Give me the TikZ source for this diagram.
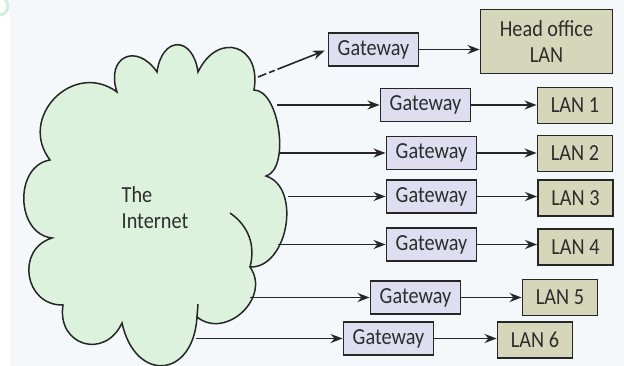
\documentclass[tikz,border=0pt]{standalone}
\usepackage{fontspec}
\setmainfont{Carlito}[FakeStretch=0.88]
\usetikzlibrary{arrows.meta}
\definecolor{bg}{RGB}{244,248,250}
\definecolor{cloudfill}{RGB}{221,242,221}
\definecolor{gwfill}{RGB}{222,222,240}
\definecolor{lanfill}{RGB}{214,214,186}
\definecolor{ink}{RGB}{38,38,38}
\definecolor{txt}{RGB}{45,45,45}
\definecolor{ring}{RGB}{205,240,222}
\begin{document}
\begin{tikzpicture}[x=1pt,y=-1pt,
  lbl/.style={text=txt, font=\fontsize{23}{26}\selectfont},
  gwbox/.style={lbl, draw=ink, line width=1.9pt, fill=gwfill, minimum width=90pt, minimum height=33pt, inner sep=0pt},
  lanbox/.style={lbl, draw=ink, line width=1.9pt, fill=lanfill, minimum width=75pt, minimum height=36pt, inner sep=0pt},
  conn/.style={draw=ink, line width=1.6pt, -{Stealth[length=12pt,width=9pt]}},
  lobe/.style={bend left=82, looseness=#1}
]
\useasboundingbox (0,0) rectangle (624,366);
\fill[bg] (0,0) rectangle (624,366);
\fill[white] (0,0) rectangle (10,366);
\draw[ring, line width=3pt] (-1,6) circle (9);

% cloud
\draw[draw=ink, line width=1.5pt, fill=cloudfill]
  (50,160) to[lobe=1.45] (117,92)
  to[lobe=2.1] (157,72)
  to[lobe=2.3] (198,72)
  to[lobe=2.0] (254,90)
  to[lobe=0.75] (266,176)
  to[lobe=1.05] (250,267)
  to[lobe=1.3] (197,317)
  to[lobe=2.1] (122,323)
  to[lobe=1.7] (63,305)
  to[lobe=1.45] (52,238)
  to[lobe=1.2] (50,160) -- cycle;
\draw[draw=ink, line width=1.5pt] (230,213) to[bend left=35] (250,267);
\draw[draw=ink, line width=1.5pt] (197,317) -- (198,304);
\node[lbl, align=left] (inet) at (155,208) {The\\Internet};

% gateways and LANs
\node[gwbox] (g0) at (373.5,49.5) {Gateway};
\node[lanbox, minimum width=132pt, minimum height=64pt, align=center] (h0) at (546.5,41.5) {Head office\\LAN};
\node[gwbox] (g1) at (425.5,105) {Gateway};
\node[lanbox] (l1) at (575,105.5) {LAN 1};
\node[gwbox] (g2) at (431.5,153) {Gateway};
\node[lanbox] (l2) at (575,153.5) {LAN 2};
\node[gwbox] (g3) at (431.5,196.5) {Gateway};
\node[lanbox] (l3) at (575.5,198) {LAN 3};
\node[gwbox] (g4) at (431.5,244.5) {Gateway};
\node[lanbox] (l4) at (575.5,247) {LAN 4};
\node[gwbox] (g5) at (415.5,297.5) {Gateway};
\node[lanbox] (l5) at (560,297.5) {LAN 5};
\node[gwbox] (g6) at (388.5,338.5) {Gateway};
\node[lanbox] (l6) at (535,340) {LAN 6};

% cloud exits
\coordinate (c0) at (258,77);
\coordinate (c1) at (277,105);
\coordinate (c2) at (280,153);
\coordinate (c3) at (288,196.5);
\coordinate (c4) at (278,244.5);
\coordinate (c5) at (250,297.5);
\coordinate (c6) at (196,338.5);

\draw[conn, dash pattern=on 9pt off 3pt on 6pt off 3pt on 200pt off 0pt, shorten >=3pt] (c0) -- (g0.west);
\foreach \i in {1,...,6}{
  \draw[conn] (c\i) -- (g\i.west);
}
\draw[conn] (g0.east) -- (g0.east -| h0.west);
\foreach \i in {1,...,6}{
  \draw[conn] (g\i.east) -- (g\i.east -| l\i.west);
}
\end{tikzpicture}
\end{document}
